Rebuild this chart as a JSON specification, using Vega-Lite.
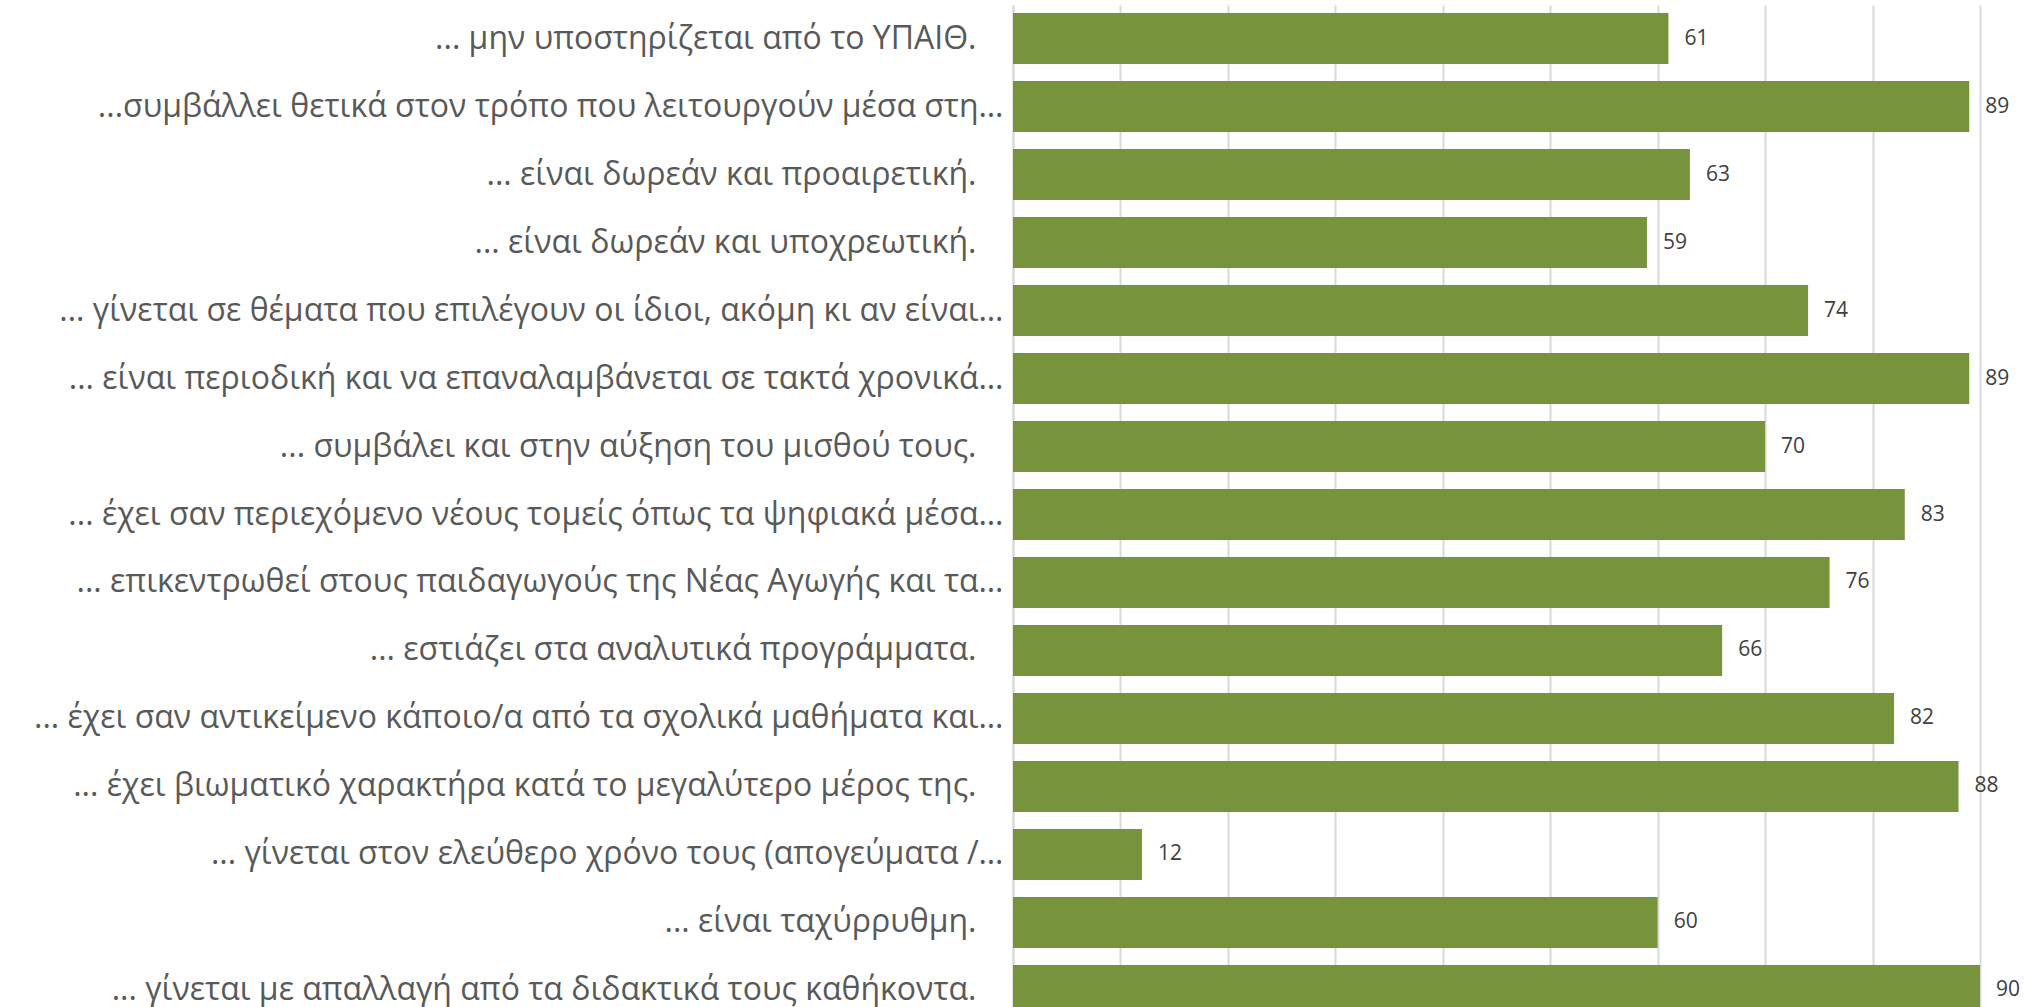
{
  "$schema": "https://vega.github.io/schema/vega-lite/v6.json",
  "width": 967,
  "height": 1019,
  "autosize": "none",
  "padding": {"left": 1013, "right": 47, "top": 5, "bottom": -17},
  "background": "white",
  "config": {"view": {"stroke": null}},
  "data": {
    "values": [
      {"label": "... μην υποστηρίζεται από το ΥΠΑΙΘ.", "value": 61},
      {"label": "...συμβάλλει θετικά στον τρόπο που λειτουργούν μέσα στη…", "value": 89},
      {"label": "... είναι δωρεάν και προαιρετική.", "value": 63},
      {"label": "... είναι δωρεάν και υποχρεωτική.", "value": 59},
      {"label": "... γίνεται σε θέματα που επιλέγουν οι ίδιοι, ακόμη κι αν είναι…", "value": 74},
      {"label": "... είναι περιοδική και να επαναλαμβάνεται σε τακτά χρονικά…", "value": 89},
      {"label": "... συμβάλει και στην αύξηση του μισθού τους.", "value": 70},
      {"label": "... έχει σαν περιεχόμενο νέους τομείς όπως τα ψηφιακά μέσα…", "value": 83},
      {"label": "... επικεντρωθεί στους παιδαγωγούς της Νέας Αγωγής και τα…", "value": 76},
      {"label": "... εστιάζει στα αναλυτικά προγράμματα.", "value": 66},
      {"label": "... έχει σαν αντικείμενο κάποιο/α από τα σχολικά μαθήματα και…", "value": 82},
      {"label": "... έχει βιωματικό χαρακτήρα κατά το μεγαλύτερο μέρος της.", "value": 88},
      {"label": "... γίνεται στον ελεύθερο χρόνο τους (απογεύματα /…", "value": 12},
      {"label": "... είναι ταχύρρυθμη.", "value": 60},
      {"label": "... γίνεται με απαλλαγή από τα διδακτικά τους καθήκοντα.", "value": 90}
    ]
  },
  "encoding": {
    "y": {
      "field": "label",
      "type": "nominal",
      "sort": null,
      "scale": {"paddingInner": 0.25, "paddingOuter": 0.118},
      "axis": {
        "title": null,
        "ticks": false,
        "domain": true,
        "domainColor": "#d9d9d9",
        "domainWidth": 2,
        "labelFont": "Open Sans",
        "labelFontSize": 32,
        "labelColor": "#595959",
        "labelLimit": 1100,
        "labelPadding": {"condition": {"test": "indexof(datum.value, '…') < 0", "value": 37}, "value": 10}
      }
    },
    "x": {
      "field": "value",
      "type": "quantitative",
      "scale": {"domain": [0, 90], "nice": false},
      "axis": {
        "title": null,
        "labels": false,
        "ticks": false,
        "domain": false,
        "values": [0, 10, 20, 30, 40, 50, 60, 70, 80, 90],
        "grid": true,
        "gridColor": "#d9d9d9",
        "gridWidth": 2
      }
    }
  },
  "layer": [
    {"mark": {"type": "bar", "color": "#77933c"}},
    {
      "mark": {"type": "text", "align": "left", "baseline": "middle", "dx": 16, "font": "Open Sans", "fontSize": 21, "color": "#404040"},
      "encoding": {"text": {"field": "value", "type": "quantitative"}}
    }
  ]
}
